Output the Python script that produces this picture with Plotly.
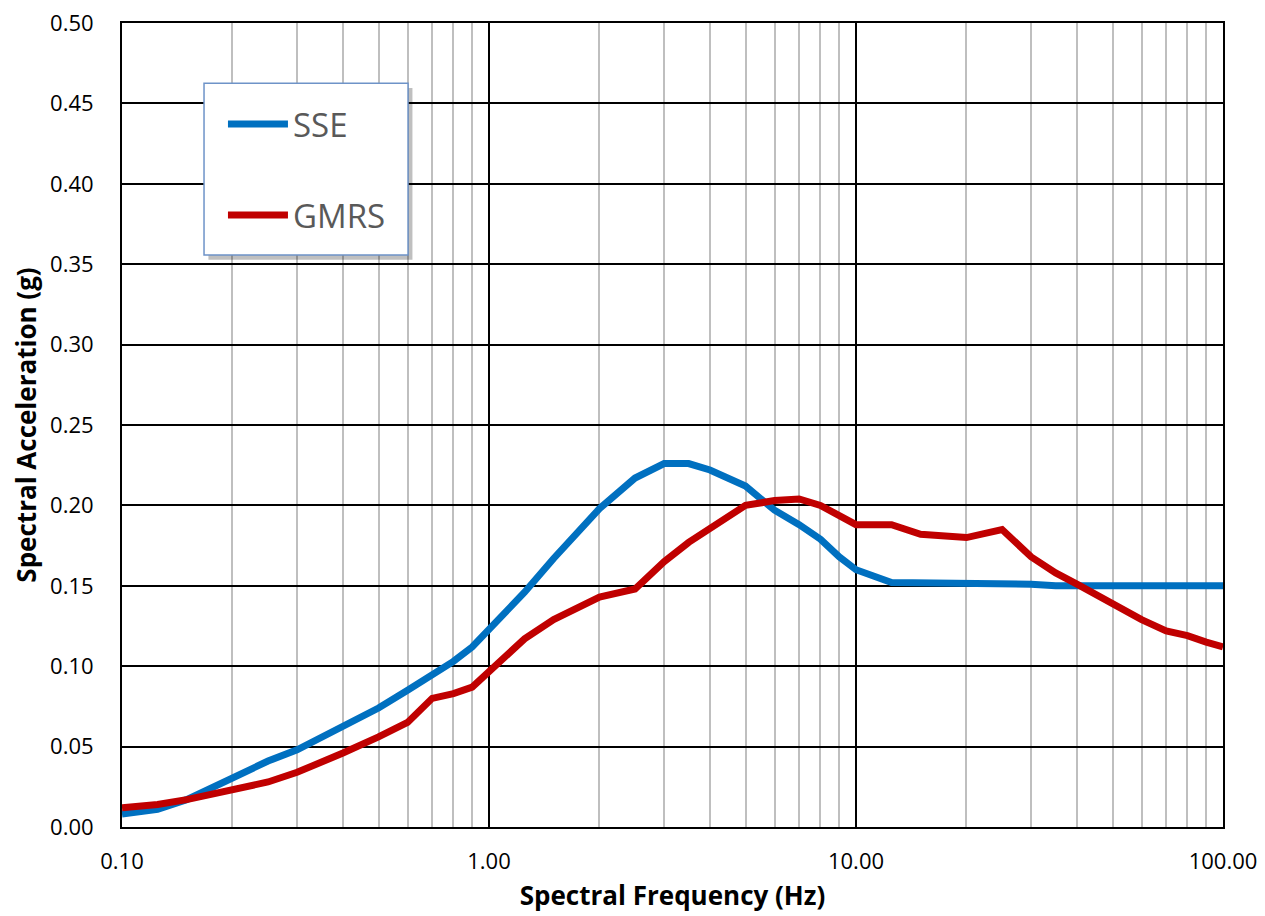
import plotly.graph_objects as go

freq = [0.1, 0.125, 0.15, 0.2, 0.25, 0.3, 0.35, 0.4, 0.5, 0.6, 0.7, 0.8, 0.9,
        1.0, 1.25, 1.5, 2.0, 2.5, 3.0, 3.5, 4.0, 5.0, 6.0, 7.0, 8.0, 9.0,
        10, 12.5, 15, 20, 25, 30, 35, 40, 50, 60, 70, 80, 90, 100]
sse = [0.008, 0.011, 0.017, 0.030, 0.041, 0.048, 0.056, 0.063, 0.074, 0.085, 0.095, 0.103, 0.112,
       0.123, 0.146, 0.167, 0.198, 0.217, 0.226, 0.226, 0.222, 0.212, 0.197, 0.188, 0.179, 0.168,
       0.160, 0.152, 0.152, 0.152, 0.151, 0.151, 0.150, 0.150, 0.150, 0.150, 0.150, 0.150, 0.150, 0.150]
gmrs = [0.012, 0.014, 0.017, 0.023, 0.028, 0.034, 0.040, 0.046, 0.056, 0.065, 0.080, 0.083, 0.087,
        0.097, 0.117, 0.129, 0.143, 0.148, 0.165, 0.177, 0.186, 0.200, 0.203, 0.204, 0.200, 0.194,
        0.188, 0.188, 0.182, 0.180, 0.185, 0.168, 0.158, 0.151, 0.139, 0.129, 0.122, 0.119, 0.115, 0.112]

x_major = [0.1, 1, 10, 100]
x_major_text = ["0.10", "1.00", "10.00", "100.00"]
x_minor = [m * d for d in [0.1, 1, 10] for m in range(2, 10)]

FONT = "Open Sans"

fig = go.Figure()
fig.add_trace(go.Scatter(x=freq, y=sse, mode="lines", name="SSE",
                         line=dict(color="#0070C0", width=7), legendgroup="a"))
fig.add_trace(go.Scatter(x=freq, y=gmrs, mode="lines", name="GMRS",
                         line=dict(color="#C00000", width=7), legendgroup="b"))

# legend box with shadow
fig.add_shape(type="rect", xref="paper", yref="paper", layer="above",
              x0=0.0745 + 0.004, x1=0.2598 + 0.004, y0=0.7114 - 0.006, y1=0.925 - 0.006,
              fillcolor="rgba(0,0,0,0.25)", line=dict(width=0))
fig.add_shape(type="rect", xref="paper", yref="paper", layer="above",
              x0=0.0745, x1=0.2598, y0=0.7114, y1=0.925,
              fillcolor="white", line=dict(color="#6E93C8", width=1.5))

fig.update_layout(
    width=1257, height=908,
    margin=dict(l=114, r=42, t=15, b=89),
    paper_bgcolor="white", plot_bgcolor="white",
    font=dict(family=FONT, color="black"),
    showlegend=True,
    legend=dict(x=0.0917, y=0.909, xanchor="left", yanchor="top",
                bgcolor="rgba(0,0,0,0)", borderwidth=0, itemwidth=60,
                font=dict(size=33, color="#595959", family=FONT),
                tracegroupgap=45, traceorder="grouped"),
    xaxis=dict(type="log", range=[-1, 2], automargin=False,
               tickvals=x_major, ticktext=x_major_text, ticklabeloverflow="allow",
               showgrid=True, gridcolor="black", gridwidth=1.5,
               minor=dict(tickvals=x_minor, showgrid=True, gridcolor="#BFBFBF", gridwidth=1.5, ticks=""),
               showline=True, linecolor="black", linewidth=2, mirror=True,
               ticks="", tickfont=dict(size=22, family=FONT), ticklabelstandoff=14,
               title=dict(text="<b>Spectral Frequency (Hz)</b>", font=dict(size=26, family=FONT), standoff=12),
               zeroline=False),
    yaxis=dict(range=[0, 0.5], dtick=0.05, tickformat=".2f", automargin=False,
               ticklabeloverflow="allow",
               showgrid=True, gridcolor="black", gridwidth=1.5,
               showline=True, linecolor="black", linewidth=2, mirror=True,
               ticks="", tickfont=dict(size=22, family=FONT), ticklabelstandoff=22,
               title=dict(text="<b>Spectral Acceleration (g)</b>", font=dict(size=26, family=FONT), standoff=14),
               zeroline=False),
)

fig.write_html("out.html")
